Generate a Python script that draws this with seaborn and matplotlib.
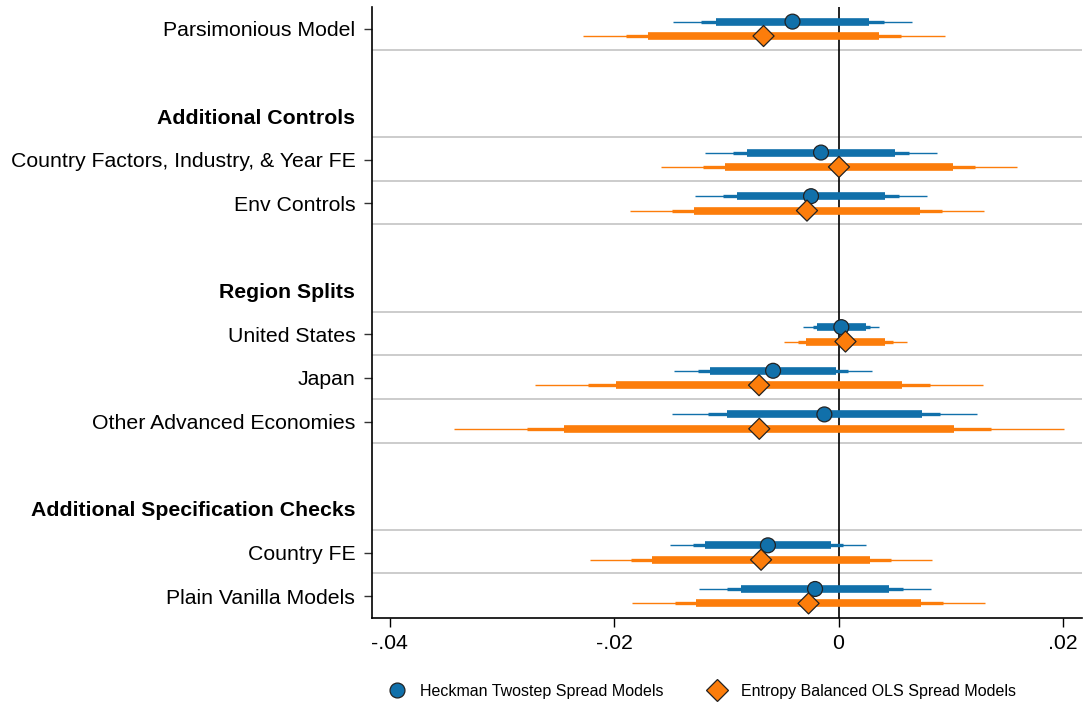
import numpy as np
import pandas as pd
import matplotlib
matplotlib.use("Agg")
import matplotlib.pyplot as plt
import seaborn as sns

# ---------------- data ----------------
row_labels = ["Parsimonious Model", "", "Additional Controls",
              "Country Factors, Industry, & Year FE", "Env Controls", "",
              "Region Splits", "United States", "Japan", "Other Advanced Economies", "",
              "Additional Specification Checks", "Country FE", "Plain Vanilla Models"]
headers = ["Additional Controls", "Region Splits", "Additional Specification Checks"]

models = ["Parsimonious Model", "Country Factors, Industry, & Year FE", "Env Controls",
          "United States", "Japan", "Other Advanced Economies", "Country FE",
          "Plain Vanilla Models"]

heckman_coef = [-0.00410, -0.00156, -0.00245, 0.00025, -0.00583, -0.00126, -0.00629, -0.00209]
heckman_se = [0.00414, 0.00401, 0.00401, 0.00131, 0.00341, 0.00527, 0.00340, 0.00401]
eb_coef = [-0.00668, 0.00004, -0.00281, 0.00062, -0.00708, -0.00706, -0.00690, -0.00267]
eb_se = [0.00626, 0.00617, 0.00612, 0.00214, 0.00776, 0.01055, 0.00590, 0.00609]

series_names = ["Heckman Twostep Spread Models", "Entropy Balanced OLS Spread Models"]
ci_levels = [99, 95, 90]
ci_z = [2.576, 1.960, 1.645]

xticks = [-0.04, -0.02, 0.0, 0.02]
xtick_labels = ["-.04", "-.02", "0", ".02"]

# ---------------- frame ----------------
df = pd.DataFrame({
    "model": models * 2,
    "series": [series_names[0]] * len(models) + [series_names[1]] * len(models),
    "coef": heckman_coef + eb_coef,
    "se": heckman_se + eb_se,
})
offsets = {series_names[0]: -0.165, series_names[1]: 0.165}
df["y"] = [row_labels.index(m) + offsets[s] for m, s in zip(df["model"], df["series"])]

colors = {series_names[0]: "#1170aa", series_names[1]: "#fc7d0b"}
markers = {series_names[0]: "o", series_names[1]: "D"}

sns.set_theme(style="white")
plt.rcParams["font.family"] = ["Liberation Sans", "DejaVu Sans"]
plt.rcParams["text.color"] = "black"
plt.rcParams["xtick.color"] = "black"
plt.rcParams["ytick.color"] = "black"
plt.rcParams["axes.labelcolor"] = "black"

fig = plt.figure(figsize=(10.84, 7.06), dpi=100)
ax = fig.add_axes([372 / 1084, 1 - 618 / 706, (1082 - 372) / 1084, (618 - 7) / 706])

# separator grid lines
for i, lab in enumerate(row_labels):
    if lab != "" and i != len(row_labels) - 1:
        ax.axhline(i + 0.48, color="#c8c8c8", lw=1.3, zorder=1)

ax.axvline(0, color="black", lw=1.2, zorder=2)

widths = {99: 1.0, 95: 2.4, 90: 5.5}
for lvl, z in zip(ci_levels, ci_z):
    for s in series_names:
        d = df[df["series"] == s]
        ax.hlines(d["y"], d["coef"] - z * d["se"], d["coef"] + z * d["se"],
                  color=colors[s], lw=widths[lvl], zorder=3, capstyle="butt")

sns.scatterplot(data=df, x="coef", y="y", hue="series", style="series",
                palette=colors, markers=markers, hue_order=series_names,
                style_order=series_names, s=115, edgecolor="#222222",
                linewidth=0.9, zorder=5, ax=ax)

ax.set_xlim(-0.04156, 0.02169)
ax.set_ylim(len(row_labels) - 0.5, -0.5)
ax.set_xticks(xticks)
ax.set_xticklabels(xtick_labels, fontsize=15.3)
ax.set_yticks(range(len(row_labels)))
ax.set_yticklabels(row_labels, fontsize=15.3)
ax.tick_params(axis="y", length=6, width=1, color="#333333", labelcolor="black", pad=6, left=True)
ax.tick_params(axis="x", length=6.5, width=1, color="black", labelcolor="black", pad=5, bottom=True)
for i, (tick, lab) in enumerate(zip(ax.yaxis.get_major_ticks(), row_labels)):
    if lab in headers or lab == "":
        tick.tick1line.set_visible(False)
        tick.tick1line.set_markersize(0)
    if lab in headers:
        tick.label1.set_fontweight("bold")
ax.set_xlabel("")
ax.set_ylabel("")
for sp in ["top", "right"]:
    ax.spines[sp].set_visible(False)
for sp in ["left", "bottom"]:
    ax.spines[sp].set_color("black")
    ax.spines[sp].set_linewidth(1.2)

sns.move_legend(ax, "center", bbox_to_anchor=(0.644, 0.021),
                bbox_transform=fig.transFigure, ncol=2, frameon=False,
                title=None, fontsize=11.5, columnspacing=2.4, handletextpad=0.45,
                markerscale=1.0)

fig.savefig("out.png", dpi=100)
